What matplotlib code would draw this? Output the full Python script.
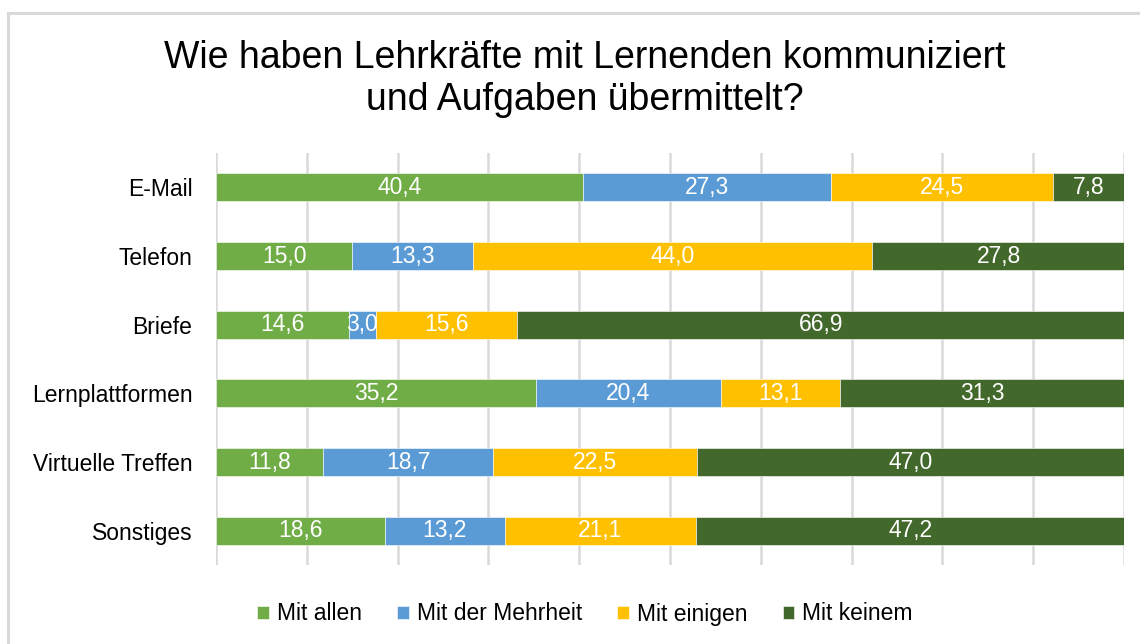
import numpy as np
import matplotlib
matplotlib.use('Agg')
import matplotlib.pyplot as plt
from matplotlib.patches import Rectangle

plt.rcParams['font.family'] = ['Liberation Sans', 'DejaVu Sans']

kategorien = ['E-Mail', 'Telefon', 'Briefe', 'Lernplattformen', 'Virtuelle Treffen', 'Sonstiges']
serien = ['Mit allen', 'Mit der Mehrheit', 'Mit einigen', 'Mit keinem']
mit_allen = [40.4, 15.0, 14.6, 35.2, 11.8, 18.6]
mit_mehrheit = [27.3, 13.3, 3.0, 20.4, 18.7, 13.2]
mit_einigen = [24.5, 44.0, 15.6, 13.1, 22.5, 21.1]
mit_keinem = [7.8, 27.8, 66.9, 31.3, 47.0, 47.2]
farben = ['#70AD47', '#5B9BD5', '#FFC000', '#43682B']

werte = [mit_allen, mit_mehrheit, mit_einigen, mit_keinem]

fig = plt.figure(figsize=(11.4, 6.44), dpi=100)
# Rahmen wie im Excel-Diagramm (nur links und oben sichtbar)
fig.patches.append(Rectangle((8 / 1140, -0.1), 1.2, 1 - 13 / 644 + 0.1, transform=fig.transFigure,
                             fill=False, edgecolor='#D9D9D9', linewidth=2.2, zorder=0))

ax = fig.add_axes([216 / 1140, 1 - 565 / 644, (1124 - 216) / 1140, (565 - 153) / 644])
y = np.arange(len(kategorien))
links = np.zeros(len(kategorien))
for name, vals, col in zip(serien, werte, farben):
    bars = ax.barh(y, vals, left=links, height=0.41, color=col, label=name,
                   edgecolor='white', linewidth=0.4, zorder=3)
    for b, v in zip(bars, vals):
        ax.text(b.get_x() + b.get_width() / 2, b.get_y() + b.get_height() / 2,
                f'{v:.1f}'.replace('.', ','), ha='center', va='center',
                color='white', fontsize=16.5, zorder=4)
    links += np.array(vals)

ax.set_xlim(0, 100)
ax.set_ylim(len(kategorien) - 0.5, -0.5)
ax.set_yticks(y)
ax.set_yticklabels(kategorien, fontsize=16.5)
ax.set_xticks(np.arange(0, 101, 10))
ax.set_xticklabels([])
ax.tick_params(length=0, pad=17)
ax.grid(axis='x', color='#D9D9D9', linewidth=1.8, zorder=0)
for s in ax.spines.values():
    s.set_visible(False)

fig.text(0.513, 1 - 79 / 644, 'Wie haben Lehrkräfte mit Lernenden kommuniziert\nund Aufgaben übermittelt?',
         ha='center', va='center', fontsize=27, linespacing=1.25, color='#000000')

fig.legend(loc='center', bbox_to_anchor=(585 / 1140, 1 - 614 / 644), ncol=4, frameon=False,
           fontsize=16.5, handlelength=0.5, handleheight=0.5, handletextpad=0.35, columnspacing=1.55)

fig.savefig('out.png', dpi=100)
